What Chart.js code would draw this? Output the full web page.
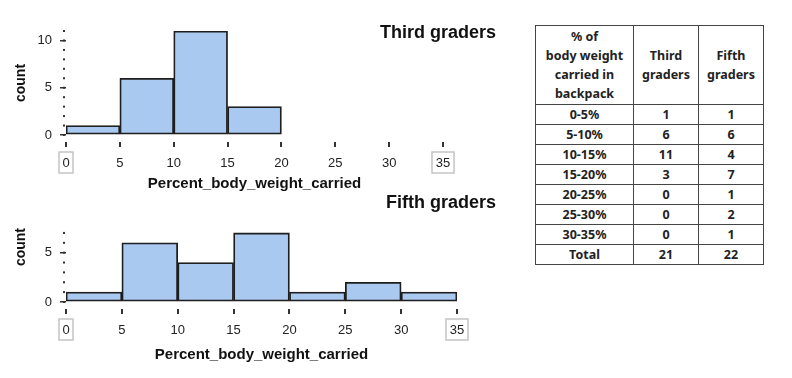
<!DOCTYPE html>
<html>
<head>
<meta charset="utf-8">
<script src="https://cdn.jsdelivr.net/npm/chart.js@4"></script>
<style>
  body { margin: 0; background: #fff; width: 792px; height: 378px; position: relative; overflow: hidden; font-family: "Liberation Sans", Arial, sans-serif; }
  .box { position: absolute; }
  .title { position: absolute; font-weight: bold; font-size: 18px; color: #111; white-space: nowrap; }
  table { position: absolute; left: 535px; top: 25px; border-collapse: collapse; font-family: "Noto Sans", sans-serif; font-weight: bold; font-size: 12.5px; color: #222; }
  td { border: 1.5px solid #444; text-align: center; padding: 0; height: 19px; line-height: 15px; }
  tr.head td { height: 78px; line-height: 19px; }
</style>
</head>
<body>
<div class="box" style="left:0;top:0;width:520px;height:195px"><canvas id="third"></canvas></div>
<div class="box" style="left:0;top:190px;width:520px;height:188px"><canvas id="fifth"></canvas></div>
<div class="title" style="left:380px;top:22px">Third graders</div>
<div class="title" style="left:386px;top:192px">Fifth graders</div>
<table id="tbl"></table>
<script>
const bins = ["0-5%", "5-10%", "10-15%", "15-20%", "20-25%", "25-30%", "30-35%"];
const binStarts = [0, 5, 10, 15, 20, 25, 30];
const binWidth = 5;
const thirdCounts = [1, 6, 11, 3, 0, 0, 0];
const fifthCounts = [1, 6, 4, 7, 1, 2, 1];
const xTicks = [0, 5, 10, 15, 20, 25, 30, 35];

// table
const sum = a => a.reduce((s, v) => s + v, 0);
let html = '<tr class="head"><td style="width:97px">% of<br>body weight<br>carried in<br>backpack</td>' +
  '<td style="width:64px">Third<br>graders</td><td style="width:64px">Fifth<br>graders</td></tr>';
bins.forEach((b, i) => {
  html += '<tr><td>' + b + '</td><td>' + thirdCounts[i] + '</td><td>' + fifthCounts[i] + '</td></tr>';
});
html += '<tr><td>Total</td><td>' + sum(thirdCounts) + '</td><td>' + sum(fifthCounts) + '</td></tr>';
document.getElementById("tbl").innerHTML = html;

// dotted y axis, x tick dashes and boxes round the end labels
const decor = {
  id: "decor",
  afterDraw(chart) {
    const ctx = chart.ctx;
    const x = chart.scales.x, y = chart.scales.y;
    const area = chart.chartArea;
    ctx.save();
    ctx.fillStyle = "#333";
    for (let v = 0; v <= chart.options.dotMax; v++) {
      ctx.fillRect(area.left - 3, y.getPixelForValue(v) - 1, 2, 2);
    }
    ctx.strokeStyle = "#333";
    ctx.lineWidth = 2;
    xTicks.forEach(t => {
      const px = Math.round(x.getPixelForValue(t));
      ctx.beginPath();
      ctx.moveTo(px, area.bottom + 7);
      ctx.lineTo(px, area.bottom + 12);
      ctx.stroke();
    });
    ctx.strokeStyle = "#c4c4c4";
    ctx.lineWidth = 1.5;
    [xTicks[0], xTicks[xTicks.length - 1]].forEach((t, i) => {
      const px = x.getPixelForValue(t);
      const w = i === 0 ? 14 : 22;
      ctx.strokeRect(px - w / 2, area.bottom + 17, w, 21);
    });
    ctx.restore();
  }
};

function histogram(id, counts, yMax, padTop, titleAlign, xRight) {
  const data = [];
  binStarts.forEach((s, i) => {
    if (counts[i] > 0) data.push({ x: s + binWidth / 2, y: counts[i] });
  });
  const top = id === "third";
  return new Chart(document.getElementById(id), {
    type: "bar",
    data: {
      datasets: [{
        data: data,
        backgroundColor: "#a9c9f0",
        borderColor: "#1e1e1e",
        borderWidth: 1.8,
        borderSkipped: false,
        barPercentage: 1,
        categoryPercentage: 1
      }]
    },
    plugins: [decor],
    options: {
      responsive: true,
      maintainAspectRatio: false,
      animation: false,
      dotMax: Math.floor(yMax),
      layout: { padding: { left: 3, top: padTop, right: 520 - xRight, bottom: top ? 2 : 6 } },
      plugins: { legend: { display: false }, tooltip: { enabled: false } },
      scales: {
        x: {
          type: "linear",
          offset: false,
          min: 0, max: 35,
          afterBuildTicks: s => { s.ticks = xTicks.map(v => ({ value: v })); },
          afterFit: s => { s.height = top ? 58 : 70; },
          border: { display: false },
          grid: { display: false, drawTicks: false },
          ticks: { padding: 21, color: "#222", font: { family: "Liberation Sans", size: 13 } },
          title: {
            display: true, text: "Percent_body_weight_carried", color: "#111",
            font: { family: "Liberation Sans", size: 15, weight: "bold" },
            padding: { top: 0, bottom: top ? 0 : 8 }
          }
        },
        y: {
          min: 0, max: yMax,
          afterBuildTicks: s => { s.ticks = [0, 5, 10].filter(v => v <= yMax).map(v => ({ value: v })); },
          afterFit: s => { s.width = 63; },
          border: { display: false },
          grid: { drawOnChartArea: false, drawTicks: true, tickLength: 6, color: "#333", lineWidth: 1.5 },
          ticks: { padding: 8, color: "#222", font: { family: "Liberation Sans", size: 13 } },
          title: {
            display: true, text: "count", color: "#111", align: titleAlign,
            font: { family: "Liberation Sans", size: 14, weight: "bold" },
            padding: { top: 10, bottom: 0 }
          }
        }
      }
    }
  });
}

histogram("third", thirdCounts, 11, 31, "center", 443);
histogram("fifth", fifthCounts, 7.5, 38, "end", 457);
</script>
</body>
</html>
